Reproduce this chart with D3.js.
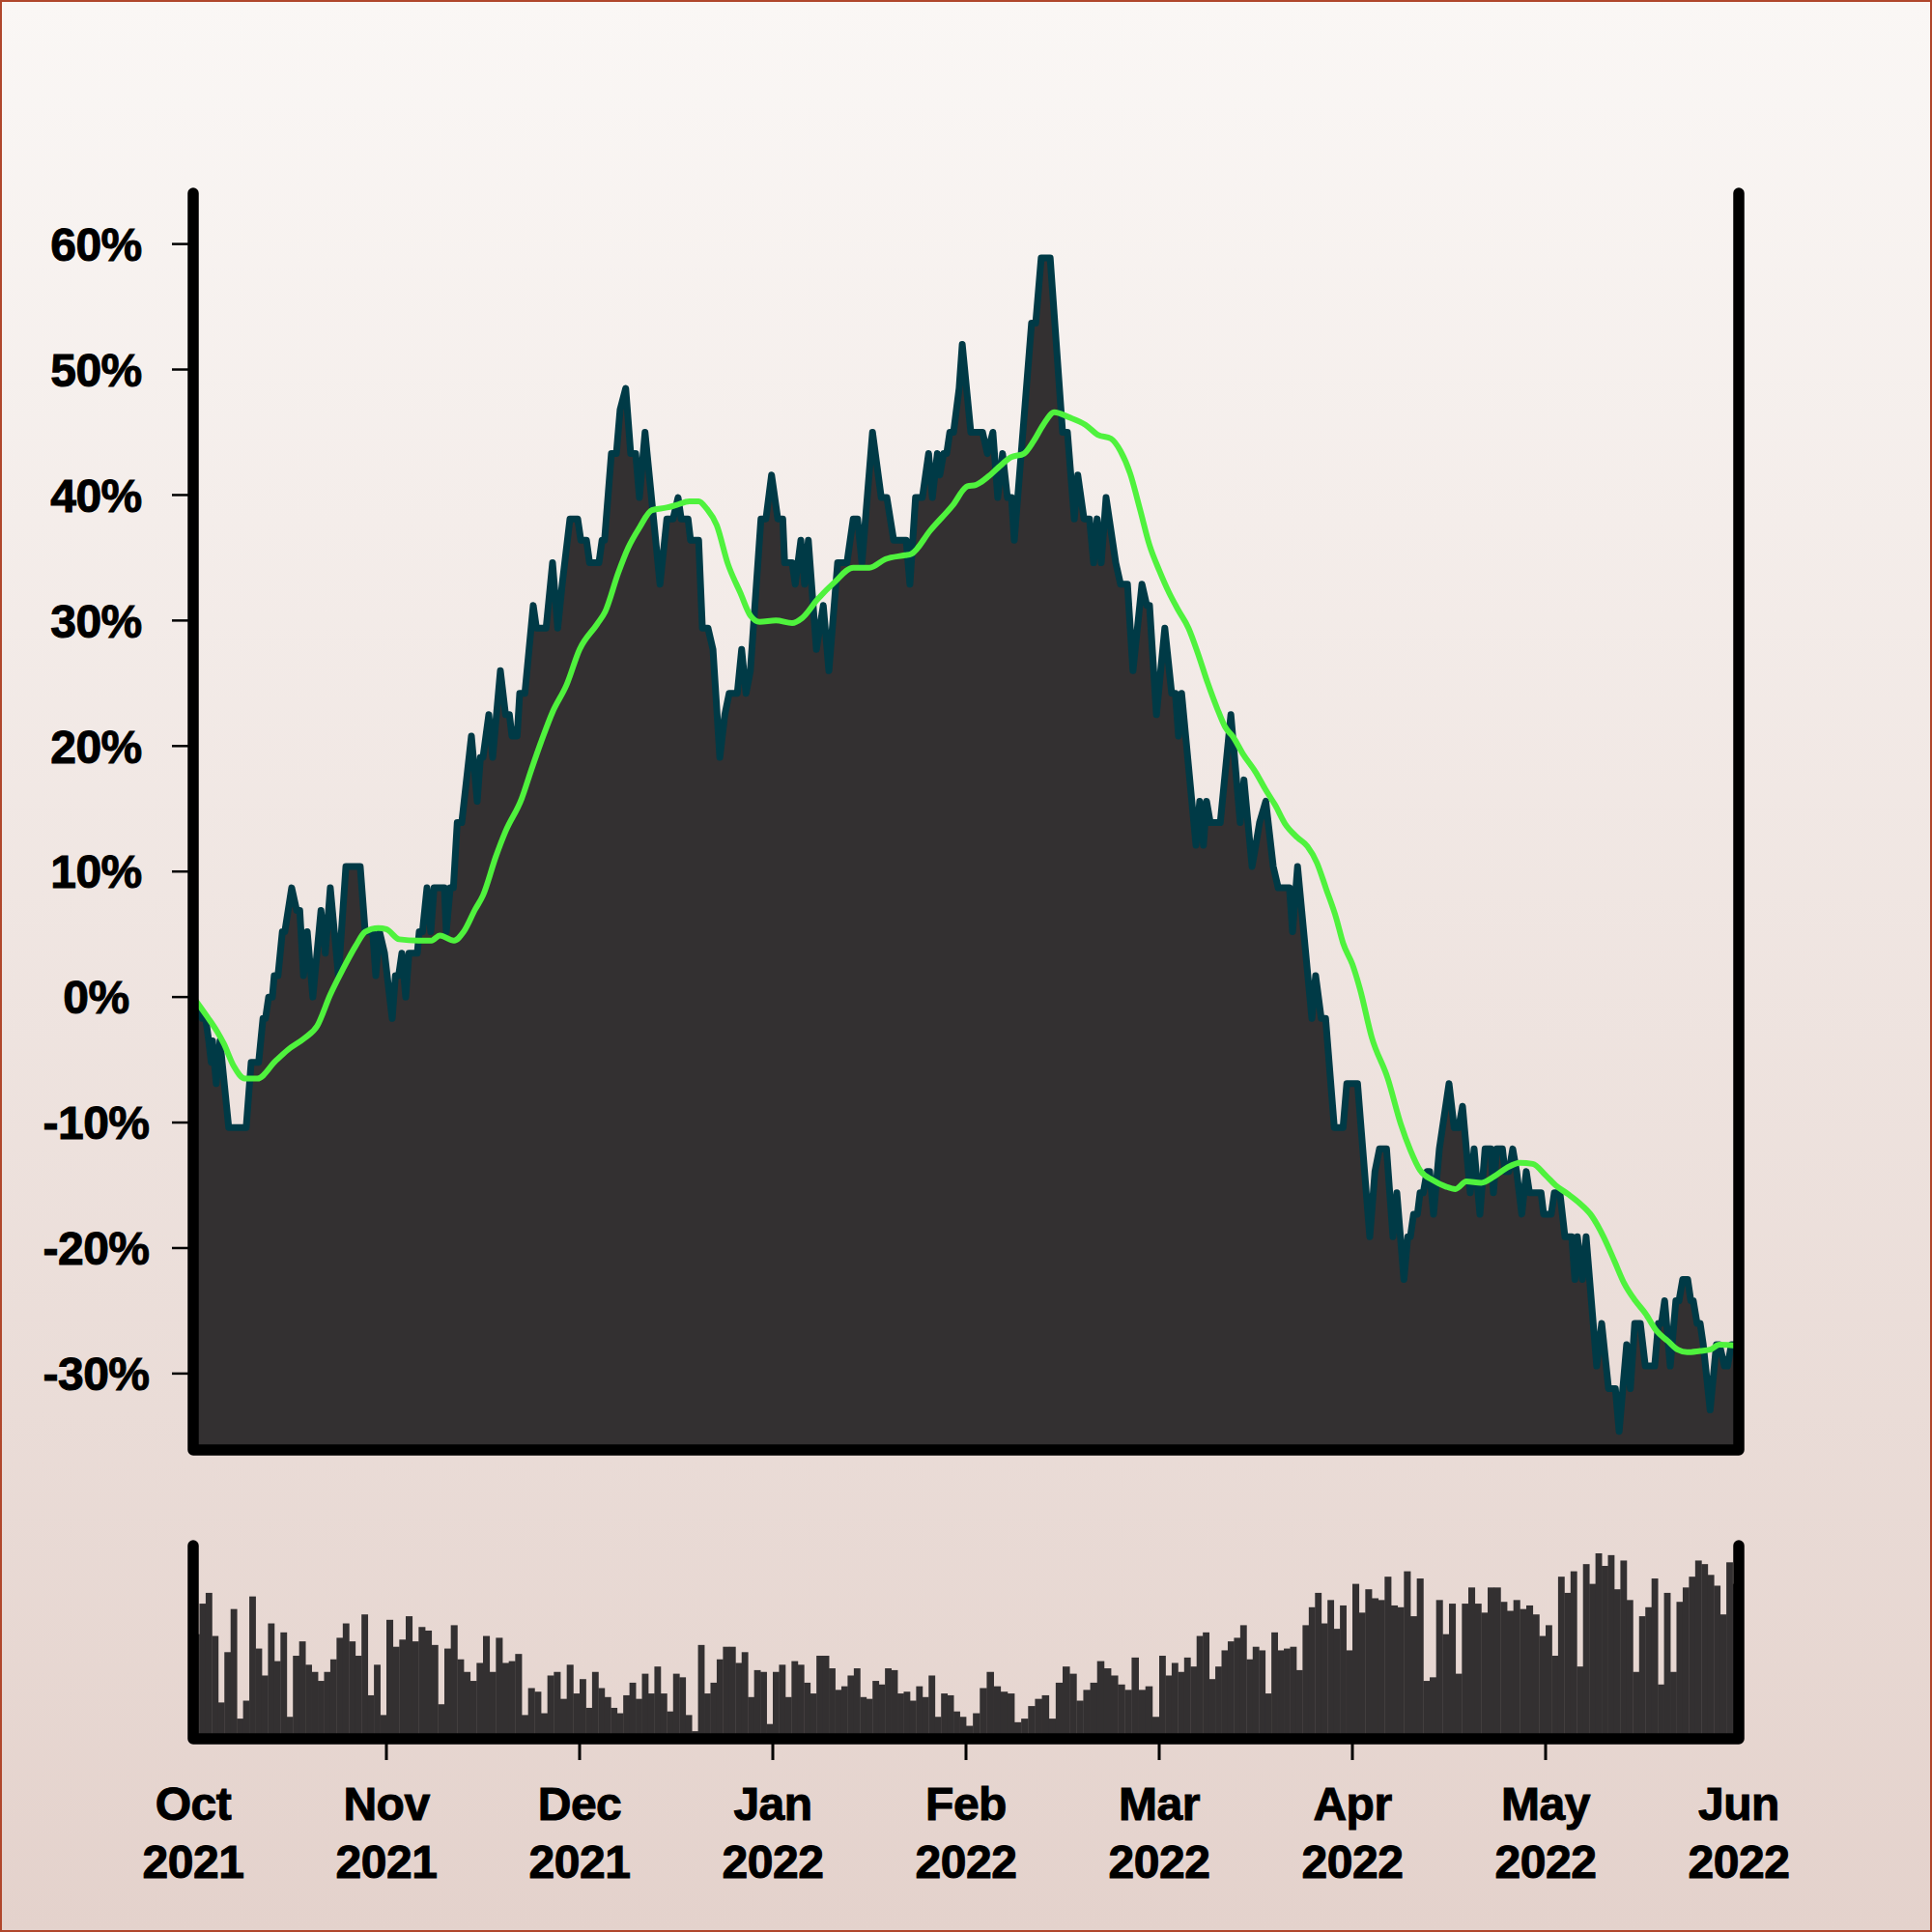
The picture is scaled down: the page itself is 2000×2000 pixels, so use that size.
<!DOCTYPE html>
<html><head><meta charset="utf-8">
<script src="https://cdn.jsdelivr.net/npm/d3@7"></script>
<style>html,body{margin:0;padding:0;background:#fff}svg{display:block}</style>
</head><body>
<svg id="chart" width="2000" height="2000"></svg>
<script>
// ---- DATA ----
// month boundaries (x-axis categories / tick labels)
const monthTicks = ["2021-10-01","2021-11-01","2021-12-01","2022-01-01","2022-02-01","2022-03-01","2022-04-01","2022-05-01","2022-06-01"];
const yTicks = [-30,-20,-10,0,10,20,30,40,50,60];

// price change (%), sampled at turning points; priceDay = days since 2021-10-01
const priceDay = [
 0,1.4,2.0,2.5,2.9,3.1,3.7,4.3,5.7,8.5,9.3,10.5,11.2,11.6,12.1,12.7,13.0,13.6,14.3,14.7,15.8,16.6,17.1,17.7,18.3,19.2,20.5,21.2,22.0,23.3,24.5,26.8,27.6,28.8,29.3,29.9,30.7,31.9,
 32.4,32.9,33.4,34.0,34.5,35.8,36.1,36.6,37.3,37.9,38.4,40.0,40.3,40.9,41.4,42.0,42.7,44.2,45.1,45.6,46.0,46.9,47.5,48.7,49.5,50.1,50.5,51.3,51.7,52.5,53.8,54.3,55.8,56.8,57.6,58.3,59.5,60.7,
 61.2,62.1,62.6,64.1,64.6,65.0,66.1,66.9,67.5,68.4,69.2,70.0,70.6,71.5,73.9,75.0,76.0,76.8,77.3,78.4,78.8,80.1,80.7,81.6,82.4,83.5,84.3,85.0,86.3,87.0,87.7,88.4,90.1,90.9,91.8,
 92.8,93.6,93.9,95.1,95.6,96.5,97.1,97.7,99.0,100.1,101.0,102.4,103.9,104.9,105.6,106.3,108.0,109.4,110.3,111.4,113.4,114.0,114.9,116.0,117.0,117.6,118.4,118.8,119.4,119.9,120.4,121.0,121.9,
 122.4,123.7,125.4,126.1,126.9,127.6,128.3,129.0,129.6,130.0,132.5,133.1,133.9,135.2,137.0,137.7,138.7,139.2,140.1,140.9,141.5,142.0,142.6,143.3,144.7,145.4,146.4,147.2,148.5,149.2,149.6,150.6,
 151.9,153.0,153.6,154.1,154.6,156.9,157.5,158.1,158.6,159.2,160.8,162.5,164.0,164.6,165.9,166.5,167.1,168.1,169.3,170.1,171.9,172.4,173.2,175.5,176.1,177.0,177.7,179.1,179.8,180.5,181.1,
 182.8,184.7,185.5,186.2,187.3,188.3,188.9,190.0,190.6,191.0,191.5,192.1,192.5,193.0,193.6,194.0,194.6,195.5,197.0,197.8,198.5,199.1,200.3,200.9,201.8,202.6,203.5,203.9,204.4,205.3,205.7,206.3,206.9,207.5,208.3,209.0,209.5,211.3,
 211.7,212.9,213.4,214.3,215.1,216.2,216.7,217.1,217.9,218.5,220.2,221.0,222.1,223.2,223.8,225.0,225.6,226.3,227.2,228.0,229.5,230.1,230.6,231.1,232.0,232.9,233.4,234.0,234.8,235.3,235.7,236.3,236.8,237.3,238.4,239.4,239.9,240.7,241.2,241.8,243.0
];
const priceValue = [
 0,-1.7,-1.7,-3.5,-5.2,-3.5,-6.9,-3.5,-10.4,-10.4,-5.2,-5.2,-1.7,-1.7,0,0,1.7,1.7,5.2,5.2,8.7,6.9,6.9,1.7,5.2,0,6.9,3.5,8.7,1.7,10.4,10.4,5.2,5.2,1.7,5.2,3.5,-1.7,
 1.7,1.7,3.5,0,3.5,3.5,5.2,5.2,8.7,5.2,8.7,8.7,5.2,8.7,8.7,13.9,13.9,20.8,15.6,19.1,19.1,22.5,19.1,26.0,22.5,22.5,20.8,20.8,24.2,24.2,31.2,29.4,29.4,34.6,29.4,32.9,38.1,38.1,
 36.4,36.4,34.6,34.6,36.4,36.4,43.3,43.3,46.8,48.5,43.3,43.3,39.8,45.0,32.9,38.1,38.1,39.8,38.1,38.1,36.4,36.4,29.4,29.4,27.7,19.1,22.5,24.2,24.2,27.7,24.2,26.0,38.1,38.1,41.6,
 38.1,38.1,34.6,34.6,32.9,36.4,32.9,36.4,27.7,31.2,26.0,34.6,34.6,38.1,38.1,34.6,45.0,39.8,39.8,36.4,36.4,32.9,39.8,39.8,43.3,39.8,43.3,41.6,43.3,43.3,45.0,45.0,48.5,
 52.0,45.0,45.0,43.3,45.0,39.8,43.3,39.8,39.8,36.4,53.7,53.7,58.9,58.9,45.0,45.0,38.1,41.6,38.1,38.1,34.6,38.1,34.6,39.8,34.6,32.9,32.9,26.0,32.9,31.2,31.2,22.5,
 29.4,24.2,24.2,20.8,24.2,12.1,15.6,12.1,15.6,13.9,13.9,22.5,13.9,17.3,10.4,12.1,13.9,15.6,10.4,8.7,8.7,5.2,10.4,-1.7,1.7,-1.7,-1.7,-10.4,-10.4,-10.4,-6.9,
 -6.9,-19.1,-13.9,-12.1,-12.1,-19.1,-15.6,-22.5,-19.1,-19.1,-17.3,-17.3,-15.6,-15.6,-13.9,-13.9,-17.3,-12.1,-6.9,-10.4,-10.4,-8.7,-15.6,-12.1,-17.3,-12.1,-12.1,-15.6,-12.1,-12.1,-13.9,-13.9,-12.1,-13.9,-17.3,-13.9,-15.6,-15.6,
 -17.3,-17.3,-15.6,-15.6,-19.1,-19.1,-22.5,-19.1,-22.5,-19.1,-29.4,-26.0,-31.2,-31.2,-34.6,-27.7,-31.2,-26.0,-26.0,-29.4,-29.4,-26.0,-26.0,-24.2,-29.4,-24.2,-24.2,-22.5,-22.5,-24.2,-24.2,-26.0,-26.0,-27.7,-32.9,-27.7,-27.7,-29.4,-29.4,-27.7,-27.7
];

// moving average (%), maDay = days since 2021-10-01
const maDay = [0,2.3,3.9,4.9,6.5,8.3,10.3,13.2,15.2,17.8,19.9,22.0,24.0,26.1,27.6,29.7,31.0,33.0,36.0,38.0,39.3,41.5,43.0,44.8,46.0,48.0,49.5,52.0,53.5,55.0,56.8,59.0,61.0,63.8,65.1,67.2,68.8,70.6,72.6,75.0,76.5,78.6,80.1,81.4,83.0,84.8,86.8,88.4,89.9,92.5,95.1,96.7,99.2,101.8,104.9,107.5,110.1,113.2,114.2,117.3,120.9,123.2,124.4,126.3,127.7,129.5,131.4,132.8,134.2,135.8,137.9,140.3,142.1,144.0,145.4,146.8,148.2,149.6,151.0,152.6,154.1,155.7,157.2,158.8,160.3,161.6,162.9,164.4,166.5,168.1,169.6,171.2,173.2,174.8,176.3,177.8,179.4,180.5,182.0,183.2,185.0,187.5,189.5,191.0,192.5,194.5,196.5,198.0,199.7,202.0,204.0,206.0,208.0,210.0,212.0,213.6,215.6,217.4,219.2,221.3,223.1,224.6,226.4,228.0,229.8,231.6,233.2,234.7,236.8,238.4,239.9,243.0];
const maValue = [0,-1.6,-2.8,-3.7,-5.5,-6.5,-6.5,-5.1,-4.2,-3.3,-2.3,0.2,2.2,4.1,5.2,5.5,5.4,4.6,4.5,4.5,4.9,4.5,5.2,7.0,8.1,11.2,13.2,15.8,18.1,20.3,22.7,24.9,27.7,29.7,30.7,33.8,35.8,37.4,38.8,39.0,39.2,39.5,39.5,38.9,37.6,34.5,32.2,30.4,29.9,30.0,29.8,30.2,31.7,33.0,34.2,34.2,34.9,35.2,35.3,37.2,39.2,40.7,40.8,41.5,42.2,43.0,43.3,44.3,45.6,46.6,46.2,45.6,44.8,44.5,43.5,41.7,38.9,36.0,34.0,32.2,30.8,29.4,27.4,25.0,23.0,21.5,20.7,19.4,17.9,16.5,15.3,13.8,12.7,12.0,10.7,8.6,6.3,4.3,2.6,0.6,-3.2,-6.5,-10.1,-12.2,-13.8,-14.6,-15.1,-15.3,-14.7,-14.8,-14.3,-13.6,-13.2,-13.3,-14.2,-15.0,-15.7,-16.4,-17.3,-19.1,-21.1,-22.8,-24.2,-25.2,-26.6,-27.4,-28.1,-28.3,-28.2,-28.1,-27.7,-27.8];

// daily volume (relative units), one value per day from 2021-10-01
const volume = [
 55,72,78,54,17,45,69,8,18,76,47,32,61,40,56,9,43,51,38,34,29,34,41,53,61,51,43,66,21,38,10,
 63,48,52,65,51,59,57,49,16,47,60,41,34,29,39,54,34,53,39,40,44,10,25,23,11,32,34,19,38,22,
 30,14,34,25,20,14,11,21,28,19,33,22,37,22,12,33,31,10,1,49,22,28,41,48,48,39,45,20,35,34,5,
 34,38,20,40,38,28,22,43,43,36,24,26,32,36,20,19,29,27,36,35,22,23,18,26,20,32,9,22,21,12,9,
 4,11,25,34,26,23,22,6,8,15,19,21,8,28,37,33,18,24,28,40,36,32,27,24,42,24,26,9,
 43,32,39,34,42,37,54,56,30,37,46,51,53,60,41,48,46,22,56,46,47,48,35,60,70,78,61,74,58,71,46,
 83,67,80,75,74,87,71,70,90,65,86,29,31,74,55,72,33,72,81,72,67,81,81,73,68,74,69,71,66,54,
 60,43,87,78,90,37,94,83,100,93,99,80,96,74,34,65,70,86,27,78,34,73,81,87,96,94,88,82,66,95,83
];

// ---- LAYOUT / STYLE ----
const L = 200, R = 1800, T = 200, B = 1501, VT = 1600, VB = 1800;
const FONT = '"Liberation Sans", Arial, Helvetica, sans-serif';
const svg = d3.select('#chart');

const defs = svg.append('defs');
const g = defs.append('linearGradient').attr('id','bg').attr('x1',0).attr('y1',0).attr('x2',0).attr('y2',1);
g.append('stop').attr('offset','0%').attr('stop-color','#faf7f5');
g.append('stop').attr('offset','100%').attr('stop-color','#e4d2cc');
defs.append('clipPath').attr('id','clipMain').append('rect').attr('x',L).attr('y',T-60).attr('width',R-L).attr('height',B-T+60);

svg.append('rect').attr('x',1).attr('y',1).attr('width',1998).attr('height',1998)
  .attr('fill','url(#bg)').attr('stroke','#b0472c').attr('stroke-width',2);

// scales
const parse = d3.utcParse('%Y-%m-%d');
const months = monthTicks.map(parse);
const start = months[0];
const xm = d3.scaleLinear().domain([0, months.length-1]).range([L, R]);
function monthPos(date){
  const m0 = d3.utcMonth.floor(date), m1 = d3.utcMonth.offset(m0,1);
  return d3.utcMonth.count(start, m0) + (date - m0)/(m1 - m0);
}
const dayDate = d => new Date(start.getTime() + d*864e5);
const xDay = d => xm(monthPos(dayDate(d)));
const y = d3.scaleLinear().domain([-30,60]).range([1421.9, 252.6]);
const yV = d3.scaleLinear().domain([0,100]).range([1794, 1608]);

// price area + line
const pts = priceDay.map((d,i)=>({d, v: priceValue[i]}));
const main = svg.append('g').attr('clip-path','url(#clipMain)');
main.append('path').datum(pts)
  .attr('d', d3.area().x(p=>xDay(p.d)).y0(B).y1(p=>y(p.v)))
  .attr('fill','#333031');
main.append('path').datum(pts)
  .attr('d', d3.line().x(p=>xDay(p.d)).y(p=>y(p.v)))
  .attr('fill','none').attr('stroke','#003a46').attr('stroke-width',7).attr('stroke-linejoin','round');

// moving average
const ma = maDay.map((d,i)=>({d, v: maValue[i]}));
main.append('path').datum(ma)
  .attr('d', d3.line().x(p=>xDay(p.d)).y(p=>y(p.v)).curve(d3.curveMonotoneX))
  .attr('fill','none').attr('stroke','#4ff23d').attr('stroke-width',6).attr('stroke-linecap','round').attr('stroke-linejoin','round');

// volume bars
svg.append('g').selectAll('rect').data(volume).join('rect')
  .attr('x',(v,i)=>xDay(i))
  .attr('width',(v,i)=>xDay(i+1)-xDay(i)+0.4)
  .attr('y',v=>yV(v))
  .attr('height',v=>VB - yV(v))
  .attr('fill','#333031');

// frames
const frame = svg.append('g').attr('stroke','#000').attr('stroke-width',11.5).attr('stroke-linecap','round').attr('fill','none');
frame.append('path').attr('d',`M${L},${T}V${B}H${R}V${T}`).attr('stroke-linejoin','round');
frame.append('path').attr('d',`M${L},${VT}V${VB}H${R}V${VT}`).attr('stroke-linejoin','round');

// y ticks + labels
const ya = svg.append('g');
ya.selectAll('line').data(yTicks).join('line')
  .attr('x1',178).attr('x2',L).attr('y1',d=>y(d)).attr('y2',d=>y(d))
  .attr('stroke','#000').attr('stroke-width',2.5);
ya.selectAll('text').data(yTicks).join('text')
  .attr('x',99.5).attr('y',d=>y(d)).attr('dy','0.36em')
  .attr('text-anchor','middle').attr('font-family',FONT).attr('font-weight','bold')
  .attr('font-size',48).attr('letter-spacing','-0.5px').attr('fill','#000')
  .attr('stroke','#000').attr('stroke-width',1)
  .text(d=>d+'%');

// x ticks + labels
const xa = svg.append('g');
xa.selectAll('line').data(months.slice(1,-1)).join('line')
  .attr('x1',(d,i)=>xm(i+1)).attr('x2',(d,i)=>xm(i+1))
  .attr('y1',VB).attr('y2',1822).attr('stroke','#000').attr('stroke-width',3);
const fm = d3.utcFormat('%b'), fy = d3.utcFormat('%Y');
const lab = xa.selectAll('text').data(months).join('text')
  .attr('text-anchor','middle').attr('font-family',FONT).attr('font-weight','bold')
  .attr('font-size',48).attr('letter-spacing','-0.5px').attr('fill','#000')
  .attr('stroke','#000').attr('stroke-width',1);
lab.append('tspan').attr('x',(d,i)=>xm(i)).attr('y',1884).text(d=>fm(d));
lab.append('tspan').attr('x',(d,i)=>xm(i)).attr('y',1944).text(d=>fy(d));
</script>
</body></html>
